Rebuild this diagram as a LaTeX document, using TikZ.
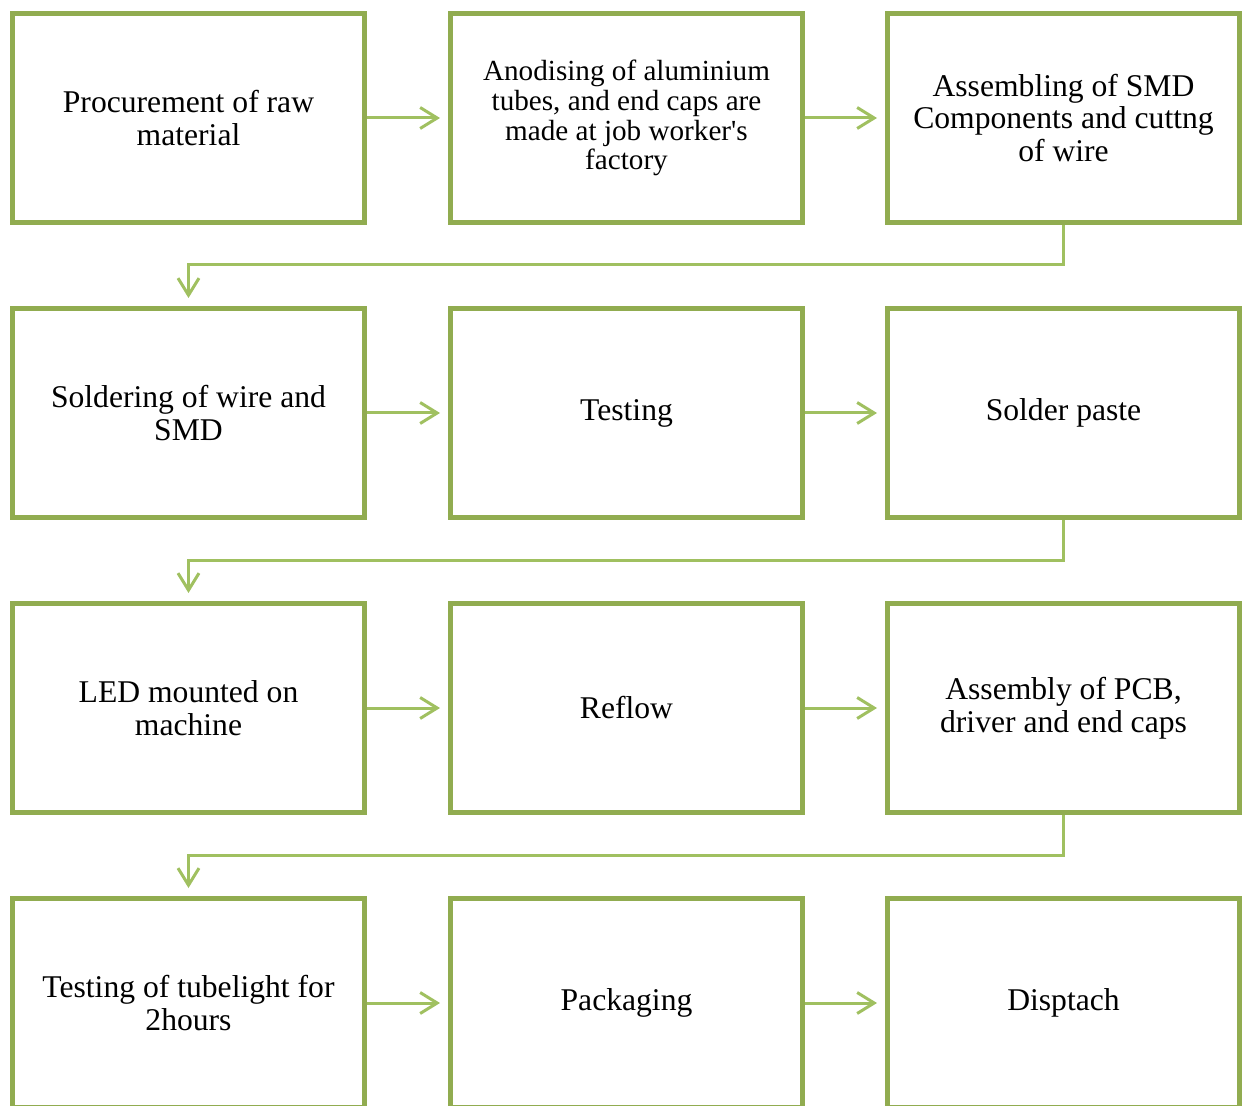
\documentclass[tikz,border=0pt]{standalone}
\usepackage{fontspec}
\setmainfont{Liberation Serif}
\usetikzlibrary{arrows.meta, positioning}
\definecolor{boxgreen}{RGB}{145, 172, 80}
\definecolor{linkgreen}{RGB}{160, 192, 96}
\definecolor{textdark}{RGB}{0, 0, 0}

\begin{document}
\begin{tikzpicture}[
    stage/.style={rectangle, draw=boxgreen, fill=white, line width=0.1cm, minimum width=7.04cm, minimum height=4.18cm, align=center, text=textdark, font=\fontsize{18}{18.7}\selectfont},
    arrow/.style={-{Straight Barb[length=0.34cm, width=0.42cm]}, line width=0.06cm, color=linkgreen, shorten >=0.16cm},
]
\useasboundingbox (0, 0) rectangle (24.88, -22.12);

% Row 1
\node[stage] (procure) at (3.77, -2.36) {Procurement of raw\\material};
\node[stage, font=\fontsize{16.6}{17}\selectfont] (anodise) at (12.53, -2.36) {Anodising of aluminium\\tubes, and end caps are\\made at job worker\textquotesingle s\\factory};
\node[stage] (smdasm) at (21.27, -2.36) {Assembling of SMD\\Components and cuttng\\of wire};

\draw[arrow] (procure) -- (anodise);
\draw[arrow] (anodise) -- (smdasm);

% Row 2
\node[stage] (solder) at (3.77, -8.26) {Soldering of wire and\\SMD};
\node[stage] (testing) at (12.53, -8.26) {Testing};
\node[stage] (paste) at (21.27, -8.26) {Solder paste};

\draw[arrow] (smdasm.south) -- ++(0, -0.8) -| (solder.north);
\draw[arrow] (solder) -- (testing);
\draw[arrow] (testing) -- (paste);

% Row 3
\node[stage] (ledmount) at (3.77, -14.16) {LED mounted on\\machine};
\node[stage] (reflow) at (12.53, -14.16) {Reflow};
\node[stage] (pcbasm) at (21.27, -14.16) {Assembly of PCB,\\driver and end caps};

\draw[arrow] (paste.south) -- ++(0, -0.8) -| (ledmount.north);
\draw[arrow] (ledmount) -- (reflow);
\draw[arrow] (reflow) -- (pcbasm);

% Row 4
\node[stage] (burnin) at (3.77, -20.06) {Testing of tubelight for\\2hours};
\node[stage] (packing) at (12.53, -20.06) {Packaging};
\node[stage] (dispatch) at (21.27, -20.06) {Disptach};

\draw[arrow] (pcbasm.south) -- ++(0, -0.8) -| (burnin.north);
\draw[arrow] (burnin) -- (packing);
\draw[arrow] (packing) -- (dispatch);

\end{tikzpicture}
\end{document}
